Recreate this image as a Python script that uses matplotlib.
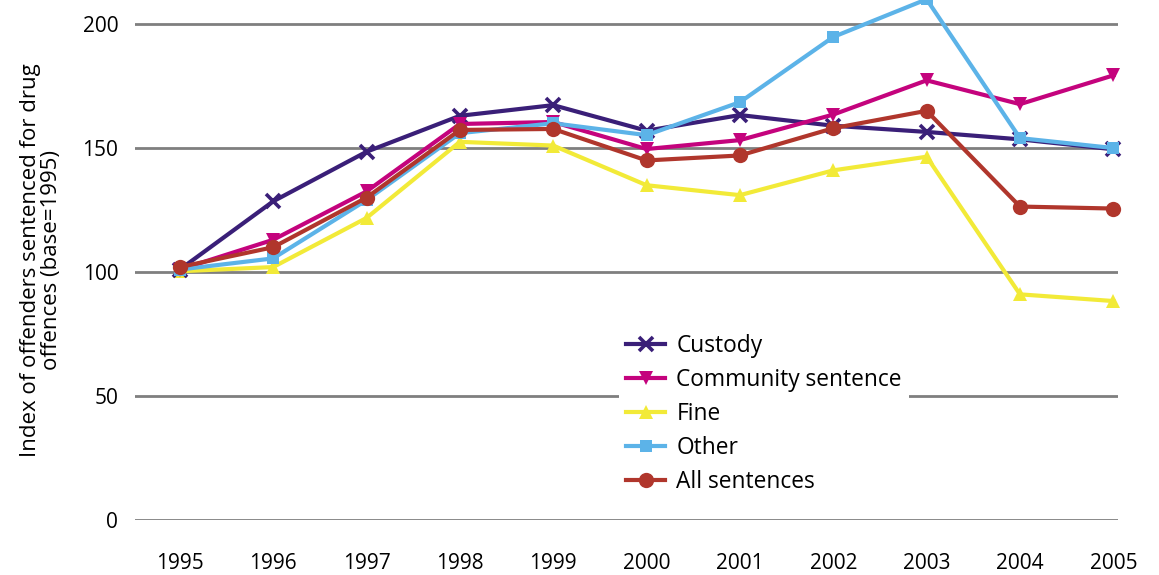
"""Index of offenders sentenced for drug offences, by sentence type (1995 = 100)."""
import matplotlib

matplotlib.use("Agg")
import matplotlib.pyplot as plt

plt.rcParams["font.family"] = ["Open Sans", "DejaVu Sans"]

years = [1995, 1996, 1997, 1998, 1999, 2000, 2001, 2002, 2003, 2004, 2005]
custody = [101, 128.5, 148.5, 163, 167.3, 157, 163.3, 159, 156.5, 153.5, 149.5]
community = [101, 113, 132.5, 159.7, 160.5, 149.6, 153.2, 163.5, 177.3, 167.7, 179.3]
fine = [100.3, 102, 121.8, 152.5, 151, 135, 131, 141, 146.5, 91, 88.3]
other = [101, 105.5, 129, 156, 160, 155.2, 168.5, 194.8, 210, 154, 150]
all_sent = [102, 110, 130, 157.3, 157.7, 145, 147, 158, 165, 126.4, 125.6]

series = [
    # label, values, colour, marker, markersize, zorder
    ("Custody", custody, "#3a1f78", "x", 10, 3),
    ("Community sentence", community, "#c4037d", "v", 10, 4),
    ("Fine", fine, "#f2ea38", "^", 10, 2),
    ("Other", other, "#5cb3e8", "s", 8.5, 5),
    ("All sentences", all_sent, "#b0362c", "o", 11, 6),
]

fig = plt.figure(figsize=(11.59, 5.75), dpi=100)
ax = fig.add_axes([135 / 1159, 55 / 575, (1118 - 135) / 1159, 520 / 575])

for label, vals, col, mk, ms, z in series:
    ax.plot(years, vals, color=col, lw=3, marker=mk, ms=ms,
            mew=2.6 if mk == "x" else 0, mec=col, label=label,
            zorder=z, clip_on=False)

ax.set_xlim(1994.52, 2005.05)
ax.set_ylim(0, 209.7)
ax.set_yticks([0, 50, 100, 150, 200])
ax.set_xticks(years)
ax.grid(axis="y", color="#7f7f7f", lw=2)
ax.set_axisbelow(True)
for sp in ax.spines.values():
    sp.set_visible(False)
ax.tick_params(axis="x", length=0, pad=24, labelsize=15)
ax.tick_params(axis="y", length=0, pad=12, labelsize=15)
ax.set_ylabel("Index of offenders sentenced for drug\noffences (base=1995)",
              fontsize=16, linespacing=1.0, labelpad=15)

leg = ax.legend(loc="upper left", bbox_to_anchor=(608 / 1159, 1 - 316 / 575),
                bbox_transform=fig.transFigure, fontsize=16.4, frameon=True,
                facecolor="white", edgecolor="none", framealpha=1,
                handlelength=1.7, handletextpad=0.5, labelspacing=0.44,
                borderpad=0.3, fancybox=False)
leg.set_zorder(10)

fig.savefig("out.png", dpi=100)
